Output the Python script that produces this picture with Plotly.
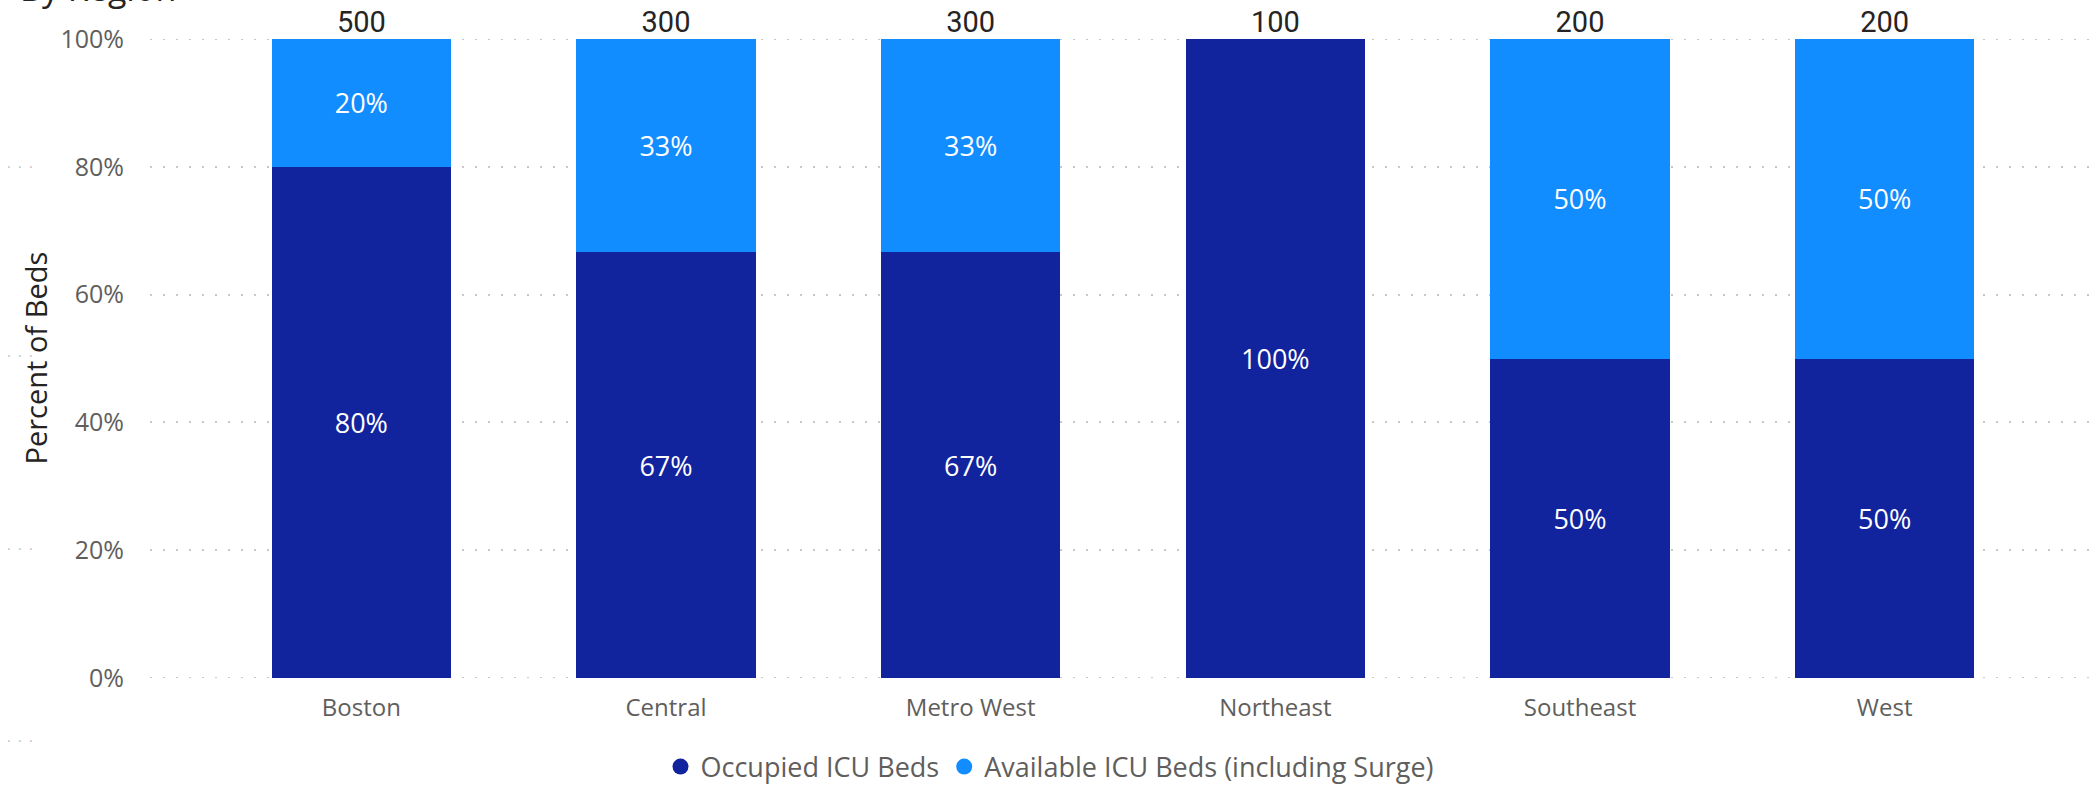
"""
ICU bed occupancy by region - 100% stacked columns.
"""
import plotly.graph_objects as go

# Data
REGIONS = ["Boston", "Central", "Metro West", "Northeast", "Southeast", "West"]
OCCUPIED = [400, 200, 200, 100, 100, 100]
AVAILABLE = [100, 100, 100, 0, 100, 100]
TOTALS = [500, 300, 300, 100, 200, 200]
Y_TICKS = [0, 20, 40, 60, 80, 100]
Y_TICK_TEXT = ["0%", "20%", "40%", "60%", "80%", "100%"]

# Colour palette
OCC_COLOUR = "#12239E"
AVAIL_COLOUR = "#118DFF"
GRID_COLOUR = "#C8C8C8"
LABEL_GREY = "#605E5C"
DARK = "#252423"
FONT = "Open Sans, Noto Sans, sans-serif"

W, H = 2096, 785
L, R, T, B = 150, 6, 39, 107
PLOT_W = W - L - R
PLOT_H = H - T - B
STEP = 304.6  # px per category
GRID_DASH = "2px,11px"

occ_pct = [o / t * 100 for o, t in zip(OCCUPIED, TOTALS)]
avail_pct = [a / t * 100 for a, t in zip(AVAILABLE, TOTALS)]


def _lbl(v):
    return f"{v:.0f}%" if v > 0 else ""


fig = go.Figure()

# plotly skips grid lines on the range ends, so draw those two by hand
for yv in (Y_TICKS[0], Y_TICKS[-1]):
    fig.add_hline(y=yv, line=dict(color=GRID_COLOUR, width=2, dash=GRID_DASH),
                  layer="below")

for vals, name, col in [(occ_pct, "Occupied ICU Beds", OCC_COLOUR),
                        (avail_pct, "Available ICU Beds (including Surge)", AVAIL_COLOUR)]:
    fig.add_trace(go.Bar(
        x=REGIONS, y=vals, name=name,
        marker=dict(color=col, line=dict(width=0)),
        text=[_lbl(v) for v in vals],
        textposition="inside", insidetextanchor="middle", textangle=0,
        textfont=dict(color="white", size=27, family=FONT),
        showlegend=False,
    ))

# totals above the columns
fig.add_trace(go.Scatter(
    x=REGIONS, y=[o + a for o, a in zip(occ_pct, avail_pct)],
    mode="text", text=[str(t) for t in TOTALS],
    textposition="top center",
    textfont=dict(color=DARK, size=29, family="Roboto, sans-serif"),
    cliponaxis=False, showlegend=False, hoverinfo="skip",
))

# legend entries with round markers
for name, col in [("Occupied ICU Beds", OCC_COLOUR),
                  ("Available ICU Beds (including Surge)", AVAIL_COLOUR)]:
    fig.add_trace(go.Scatter(
        x=[None], y=[None], mode="markers", name=name,
        marker=dict(color=col, size=20, symbol="circle"),
    ))

x_lo = -0.5 - (209 - L) / STEP
x_hi = 5.5 + (W - R - 2037) / STEP

fig.update_layout(
    width=W, height=H,
    margin=dict(l=L, r=R, t=T, b=B, pad=0, autoexpand=False),
    paper_bgcolor="white", plot_bgcolor="white",
    barmode="stack", bargap=0.412,
    font=dict(family=FONT, color=LABEL_GREY),
    xaxis=dict(
        range=[x_lo, x_hi], showgrid=False, zeroline=False, showline=False,
        automargin=False,
        tickfont=dict(size=24, color=LABEL_GREY),
        ticks="outside", ticklen=8, tickcolor="rgba(0,0,0,0)",
    ),
    yaxis=dict(
        range=[0, 100], tickvals=Y_TICKS, ticktext=Y_TICK_TEXT,
        showgrid=True, gridcolor=GRID_COLOUR, gridwidth=2, griddash=GRID_DASH,
        zeroline=False, showline=False, automargin=False,
        tickfont=dict(size=25, color=LABEL_GREY),
        ticks="outside", ticklen=20, tickcolor="rgba(0,0,0,0)",
    ),
    legend=dict(
        orientation="h", traceorder="normal",
        x=(1050 - L) / PLOT_W, xanchor="center",
        y=-(767 - (H - B)) / PLOT_H, yanchor="middle",
        font=dict(size=27, color=LABEL_GREY), itemwidth=30,
    ),
)

# y title
fig.add_annotation(
    text="Percent of Beds", textangle=-90, showarrow=False,
    xref="paper", yref="paper", x=(35 - L) / PLOT_W, y=0.5,
    xanchor="center", yanchor="middle",
    font=dict(size=29, color=DARK, family=FONT),
)

# visual title, mostly cut off at the top edge as in the source
fig.add_annotation(
    text="By Region", showarrow=False,
    xref="paper", yref="paper", x=(18 - L) / PLOT_W,
    y=1 + (T - 13.5) / PLOT_H, xanchor="left", yanchor="bottom",
    font=dict(size=34, color=DARK, family=FONT),
)

# small header dots on the left edge
for yp in [166, 355, 548, 740]:
    fig.add_annotation(
        text="·  ·  ·", showarrow=False,
        xref="paper", yref="paper", x=(20 - L) / PLOT_W,
        y=((H - B) - yp) / PLOT_H, xanchor="center", yanchor="middle",
        font=dict(size=14, color="#BDBDBD", family=FONT),
    )

# drop the default page margin so the figure sits at the window corner
fig.write_html("out.html", config={"displayModeBar": False},
               post_script="document.body.style.margin='0';")
